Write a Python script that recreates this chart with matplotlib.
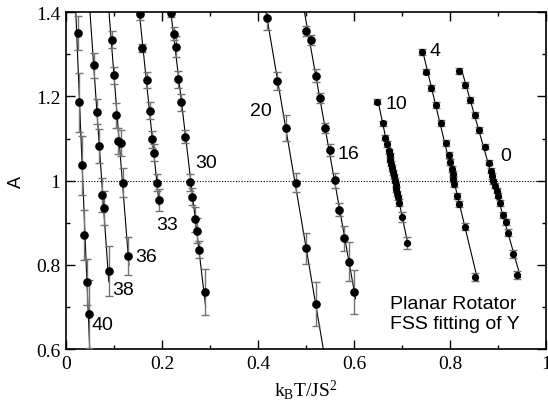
import numpy as np
import matplotlib
matplotlib.use("Agg")
from matplotlib import pyplot as plt
from matplotlib.ticker import MultipleLocator, FuncFormatter

# size L labels and data (A vs k_B T / J S^2)
x40 = [0.024, 0.027, 0.033, 0.038, 0.044, 0.048]
y40 = [1.350, 1.186, 1.037, 0.871, 0.760, 0.683]
e40 = [0.040, 0.070, 0.070, 0.060, 0.055, 0.080]

x38 = [0.059, 0.064, 0.069, 0.074, 0.079, 0.089]
y38 = [1.274, 1.164, 1.083, 0.966, 0.935, 0.785]
e38 = [0.030, 0.030, 0.040, 0.040, 0.040, 0.060]

x36 = [0.095, 0.099, 0.105, 0.109, 0.114, 0.119, 0.129]
y36 = [1.334, 1.250, 1.155, 1.094, 1.089, 0.995, 0.821]
e36 = [0.020, 0.020, 0.030, 0.030, 0.030, 0.035, 0.045]

x33 = [0.154, 0.159, 0.168, 0.174, 0.179, 0.183, 0.189, 0.194]
y33 = [1.396, 1.315, 1.239, 1.166, 1.098, 1.066, 0.995, 0.954]
e33 = [0.015, 0.010, 0.020, 0.020, 0.020, 0.020, 0.020, 0.025]

x30 = [0.219, 0.225, 0.229, 0.234, 0.2395, 0.248, 0.258, 0.263, 0.269, 0.273, 0.278, 0.289]
y30 = [1.398, 1.349, 1.318, 1.241, 1.186, 1.104, 0.996, 0.962, 0.908, 0.881, 0.836, 0.735]
e30 = [0.010, 0.015, 0.025, 0.020, 0.020, 0.015, 0.020, 0.020, 0.030, 0.030, 0.020, 0.055]

x20 = [0.419, 0.439, 0.459, 0.479, 0.499, 0.520]
y20 = [1.386, 1.237, 1.125, 0.995, 0.839, 0.708]
e20 = [0.028, 0.022, 0.030, 0.023, 0.036, 0.052]

x16 = [0.499, 0.510, 0.521, 0.529, 0.540, 0.550, 0.560, 0.569, 0.580, 0.590, 0.600]
y16 = [1.356, 1.334, 1.249, 1.197, 1.124, 1.073, 1.001, 0.931, 0.863, 0.808, 0.735]
e16 = [0.012, 0.012, 0.015, 0.012, 0.012, 0.015, 0.018, 0.015, 0.030, 0.047, 0.052]

x10 = [0.648, 0.661, 0.665, 0.669, 0.673, 0.674, 0.676, 0.678, 0.680, 0.681,
       0.683, 0.685, 0.687, 0.688, 0.690, 0.692, 0.694, 0.700, 0.711]
y10 = [1.187, 1.136, 1.102, 1.087, 1.070, 1.060, 1.050, 1.040, 1.030, 1.020,
       1.010, 1.000, 0.990, 0.980, 0.970, 0.960, 0.948, 0.913, 0.852]
e10 = [0.006, 0.006, 0.006, 0.006, 0.006, 0.006, 0.006, 0.006, 0.006, 0.006,
       0.006, 0.006, 0.006, 0.006, 0.006, 0.007, 0.008, 0.012, 0.015]

x4 = [0.741, 0.750, 0.760, 0.770, 0.781, 0.792, 0.798, 0.801, 0.805, 0.806,
      0.807, 0.809, 0.814, 0.819, 0.831, 0.852]
y4 = [1.306, 1.259, 1.220, 1.179, 1.137, 1.089, 1.060, 1.045, 1.027, 1.015,
      1.004, 0.992, 0.964, 0.944, 0.891, 0.771]
e4 = [0.007, 0.007, 0.007, 0.007, 0.007, 0.007, 0.007, 0.007, 0.007, 0.007,
      0.007, 0.007, 0.007, 0.007, 0.008, 0.010]

x0 = [0.819, 0.831, 0.842, 0.852, 0.861, 0.873, 0.881, 0.885, 0.887, 0.890,
      0.894, 0.897, 0.900, 0.904, 0.911, 0.916, 0.920, 0.932, 0.939]
y0 = [1.261, 1.227, 1.191, 1.156, 1.120, 1.081, 1.043, 1.023, 1.011, 0.999,
      0.988, 0.976, 0.964, 0.947, 0.919, 0.902, 0.876, 0.826, 0.776]
e0 = [0.007, 0.007, 0.007, 0.007, 0.007, 0.007, 0.007, 0.006, 0.006, 0.006,
      0.006, 0.006, 0.006, 0.007, 0.007, 0.007, 0.008, 0.009, 0.010]

sizes = ['40', '38', '36', '33', '30', '20', '16', '10', '4', '0']
xs = [x40, x38, x36, x33, x30, x20, x16, x10, x4, x0]
ys = [y40, y38, y36, y33, y30, y20, y16, y10, y4, y0]
es = [e40, e38, e36, e33, e30, e20, e16, e10, e4, e0]
# y-range covered by each fitted line (top, bottom)
line_top = [1.42, 1.42, 1.42, 1.42, 1.42, 1.42, 1.42, 1.19, 1.31, 1.265]
line_bot = [0.58, 0.76, 0.80, 0.94, 0.70, 0.58, 0.72, 0.845, 0.76, 0.77]
label_x = [0.054, 0.097, 0.144, 0.1875, 0.270, 0.383, 0.565, 0.665, 0.757, 0.904]
label_y = [0.658, 0.742, 0.821, 0.897, 1.043, 1.167, 1.065, 1.182, 1.308, 1.060]

serif = ['Liberation Serif', 'DejaVu Serif']
sans = ['Liberation Sans', 'DejaVu Sans']

fig = plt.figure(figsize=(5.48, 4.10), dpi=100)
ax = fig.add_axes([0.1204, 0.146, 0.876, 0.822])

ax.axhline(1.0, color='black', lw=0.8, ls=(0, (1, 1.5)), zorder=1)

for i in range(len(sizes)):
    x = np.array(xs[i])
    y = np.array(ys[i])
    small = i >= 7
    # straight-line fit x(y)
    b, a = np.polyfit(y, x, 1)
    yy = np.array([line_top[i], line_bot[i]])
    ax.plot(a + b * yy, yy, color='black', lw=0.8, zorder=2)
    _, caps, bars = ax.errorbar(x, y, yerr=es[i], fmt='o', color='black',
                                ecolor='0.45', elinewidth=1.0,
                                markersize=4.2 if small else 5.2,
                                capsize=2.6 if small else 3.0,
                                capthick=1.0, zorder=3)
    for c in caps:
        c.set_color('black')
    ax.text(label_x[i], label_y[i], sizes[i], ha='left', va='center',
            fontsize=14, family=sans)

ax.text(0.675, 0.709, 'Planar Rotator', ha='left', va='center', fontsize=14, family=sans)
ax.text(0.675, 0.662, 'FSS fitting of Y', ha='left', va='center', fontsize=14, family=sans)

ax.set_xlim(0, 1)
ax.set_ylim(0.6, 1.4)
ax.xaxis.set_major_locator(MultipleLocator(0.2))
ax.xaxis.set_minor_locator(MultipleLocator(0.1))
ax.yaxis.set_major_locator(MultipleLocator(0.2))
ax.yaxis.set_minor_locator(MultipleLocator(0.1))
fmt = FuncFormatter(lambda v, p: '%g' % round(v, 2))
ax.xaxis.set_major_formatter(fmt)
ax.yaxis.set_major_formatter(fmt)
ax.tick_params(which='both', direction='in', top=True, right=True, width=1.0)
ax.tick_params(which='major', length=6.5, pad=4)
ax.tick_params(which='minor', length=3)
for lab in ax.get_xticklabels() + ax.get_yticklabels():
    lab.set_fontfamily(serif)
    lab.set_fontsize(14)
for s in ax.spines.values():
    s.set_linewidth(1.2)

ax.set_xlabel(r'$\mathregular{k_BT/JS^2}$', fontsize=14, family=serif, labelpad=4)
ax.set_ylabel('A', fontsize=13, family=sans, labelpad=8)

fig.savefig('out.png', dpi=100)
